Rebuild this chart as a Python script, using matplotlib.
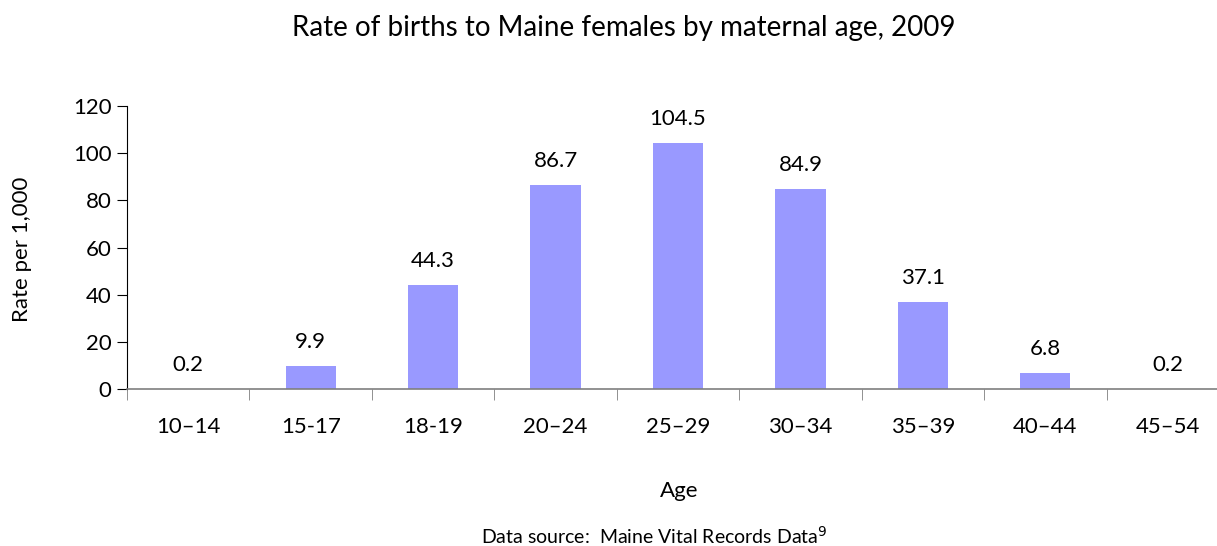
import matplotlib
matplotlib.use("Agg")
import matplotlib.pyplot as plt
import numpy as np

# chart data
age_groups = ["10\u201314", "15-17", "18-19", "20\u201324", "25\u201329",
              "30\u201334", "35\u201339", "40\u201344", "45\u201354"]
rates = [0.2, 9.9, 44.3, 86.7, 104.5, 84.9, 37.1, 6.8, 0.2]
y_ticks = [0, 20, 40, 60, 80, 100, 120]

plt.rcParams['font.family'] = ['Lato', 'DejaVu Sans']

BAR_COLOR = "#9999FF"
AXIS_COLOR = "#7f7f7f"
FS = 16

fig = plt.figure(figsize=(12.17, 5.46), dpi=100)
# axis runs a little past the right edge, like the original
ax = fig.add_axes([127 / 1217, 157 / 546, 1102 / 1217, 283 / 546])

x = np.arange(len(age_groups))
ax.bar(x, rates, width=0.41, color=BAR_COLOR, zorder=2)

for xi, v in zip(x, rates):
    ax.annotate(f"{v:.1f}", (xi, v), xytext=(0, 10), textcoords="offset points",
                ha="center", va="bottom", fontsize=FS, color="black")

ax.set_xlim(-0.5, len(age_groups) - 0.5)
ax.set_ylim(0, 120)
ax.set_yticks(y_ticks)
ax.set_yticklabels([str(t) for t in y_ticks])

# category labels, separator ticks between categories
ax.set_xticks(x)
ax.set_xticklabels(age_groups)
ax.tick_params(axis="x", which="major", length=0, pad=20, labelsize=FS)
ax.set_xticks(np.arange(len(age_groups)) - 0.5, minor=True)
ax.tick_params(axis="x", which="minor", length=8, direction="out", color=AXIS_COLOR)
ax.tick_params(axis="y", length=7, direction="out", color="black", labelsize=FS, pad=4)

for side in ["top", "right"]:
    ax.spines[side].set_visible(False)
ax.spines["left"].set_color("black")
ax.spines["bottom"].set_color(AXIS_COLOR)
ax.spines["bottom"].set_linewidth(1.2)

fig.text(624 / 1217, 1 - 28 / 546, "Rate of births to Maine females by maternal age, 2009",
         ha="center", va="center", fontsize=20)
fig.text(22 / 1217, 1 - 249 / 546, "Rate per 1,000", rotation=90,
         ha="center", va="center", fontsize=FS)
fig.text(679 / 1217, 1 - 491 / 546, "Age", ha="center", va="center", fontsize=FS)
fig.text(654 / 1217, 1 - 536 / 546, "Data source:  Maine Vital Records Data$^{9}$",
         ha="center", va="center", fontsize=14)

fig.savefig("out.png", dpi=100)
